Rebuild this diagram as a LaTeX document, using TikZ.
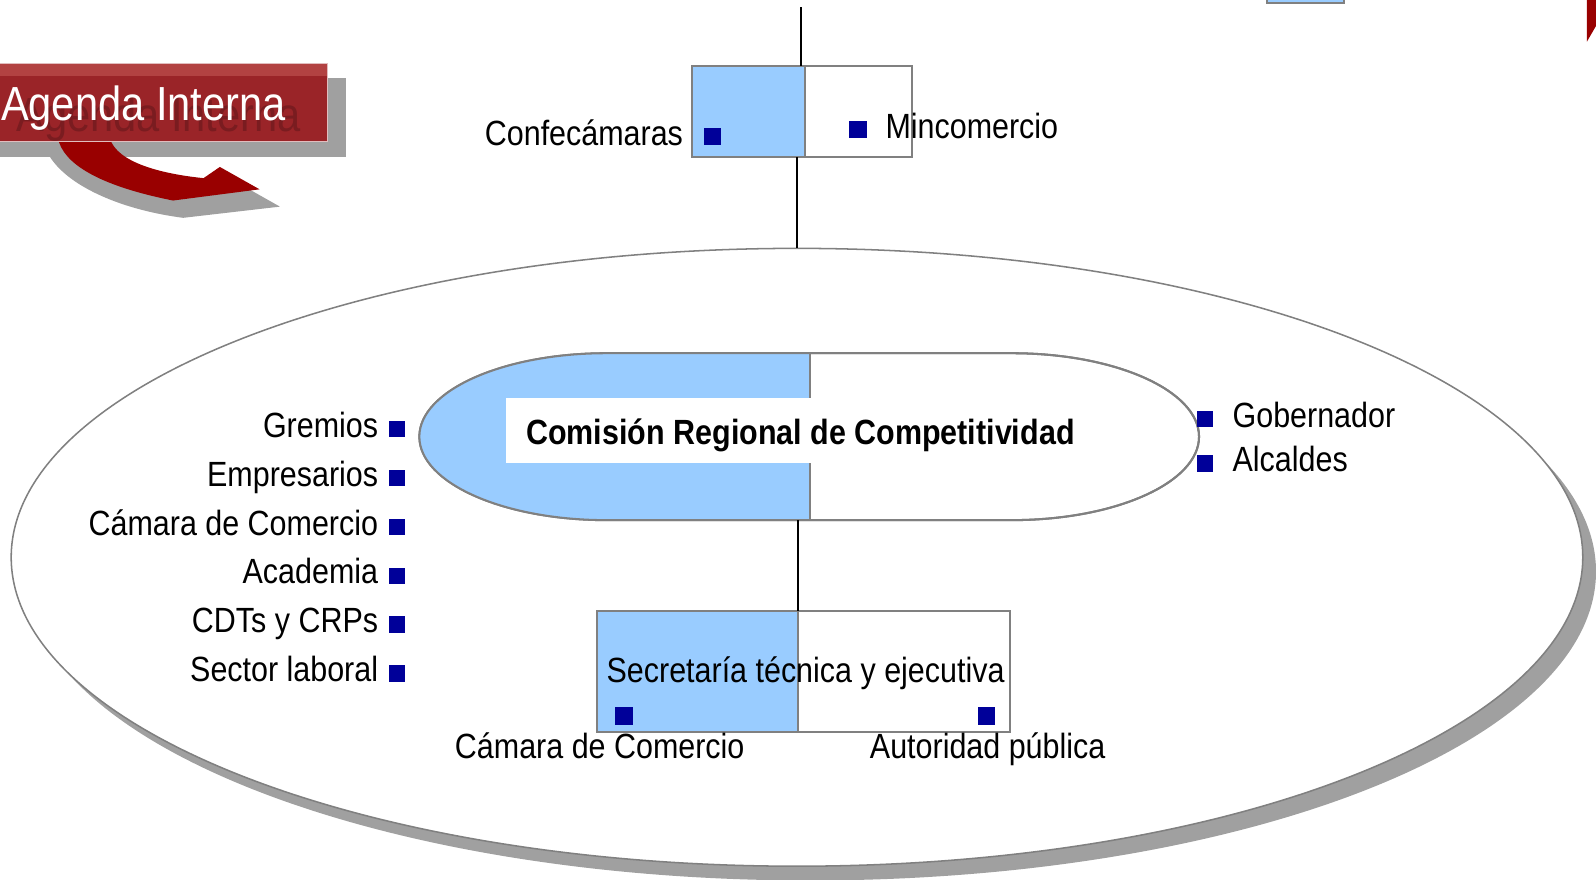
\documentclass[tikz,border=0pt]{standalone}
\usepackage{fontspec}
\setmainfont{Liberation Sans}[FakeStretch=0.87]
\usetikzlibrary{shapes.geometric}
\definecolor{lb}{RGB}{153,204,255}
\definecolor{dkblue}{RGB}{0,0,153}
\definecolor{boxgray}{RGB}{128,128,128}
\definecolor{shgray}{RGB}{160,160,160}
\definecolor{bannerred}{RGB}{154,36,40}
\definecolor{bannertop}{RGB}{178,66,66}
\definecolor{ghostred}{RGB}{122,28,32}
\definecolor{arrowred}{RGB}{153,0,0}
\newcommand{\sqb}{\textcolor{dkblue}{\rule{8pt}{8pt}}}
\newcommand{\sqB}{\textcolor{dkblue}{\rule{8.5pt}{8.5pt}}}
\begin{document}
\begin{tikzpicture}[x=0.5pt,y=-0.5pt,
  txt/.style={inner sep=0pt, outer sep=0pt, font=\fontsize{17.2}{20}\selectfont, text=black},
  boxst/.style={draw=boxgray, line width=1pt, inner sep=0pt, outer sep=0pt},
  boxline/.style={draw=boxgray, line width=1pt},
  conn/.style={draw=black, line width=1pt},
  sqst/.style={fill=dkblue, minimum size=8.5pt, inner sep=0pt, outer sep=0pt},
  bigtxt/.style={inner sep=0pt, outer sep=0pt, font=\fontsize{23.5}{28}\selectfont}]
\useasboundingbox (0,0) rectangle (1568,864);
\clip (0,0) rectangle (1568,864);

% top-right fragments
\filldraw[fill=lb, draw=boxgray, line width=1pt] (1245,-10) rectangle (1320,3);
\fill[arrowred] (1559,-2) -- (1559,41) -- (1570,22) -- (1570,-2) -- cycle;

% big region with shadow
\fill[shgray] (796,561.5) ellipse [x radius=772, y radius=303.5];
\node[ellipse, draw=boxgray, line width=0.75pt, fill=white, minimum width=772pt, minimum height=303.5pt, inner sep=0pt, outer sep=0pt] (region) at (783,547.5) {};

% top box
\fill[lb] (679.6,64.8) rectangle (791,154);
\node[boxst, minimum width=108pt, minimum height=44.6pt] (topbox) at (787.65,109.4) {};
\draw[boxline] (791,64.8) -- (791,154);
\node[txt, anchor=base east] (confe) at (708.5,142.5) {Confecámaras\hspace{10.25pt}\sqB};
\node[txt, anchor=base west] (minc) at (834.5,136) {\sqB\hspace{9.25pt}Mincomercio};

% connectors
\coordinate (topend) at (787,7);
\draw[conn] (topend) -- (topend |- topbox.north);
\draw[conn] (region.north |- topbox.south) -- (region.north);

% stadium (Comision)
\filldraw[fill=white, draw=boxgray, line width=1pt] (596,347) -- (994,347) arc[start angle=-90,end angle=90,x radius=184,y radius=82] -- (596,511) arc[start angle=90,end angle=270,x radius=184,y radius=82] -- cycle;
\begin{scope}
\clip (596,347) -- (994,347) arc[start angle=-90,end angle=90,x radius=184,y radius=82] -- (596,511) arc[start angle=90,end angle=270,x radius=184,y radius=82] -- cycle;
\fill[lb] (400,340) rectangle (796,520);
\end{scope}
\draw[boxgray, line width=1pt] (596,347) -- (994,347) arc[start angle=-90,end angle=90,x radius=184,y radius=82] -- (596,511) arc[start angle=90,end angle=270,x radius=184,y radius=82] -- cycle;
\draw[boxline] (796,347) -- (796,511);
\node[fill=white, minimum width=291pt, minimum height=31.75pt, inner sep=0pt, outer sep=0pt] (crcbox) at (788,422.75) {};
\node[txt, anchor=base west, font=\fontsize{17.2}{20}\selectfont\bfseries] (crc) at (517,437) {Comisión Regional de Competitividad};
\coordinate (crcbot) at (784,511);

% bottom box
\fill[lb] (586.8,600) rectangle (784,718.8);
\node[boxst, minimum width=202.75pt, minimum height=59.4pt] (botbox) at (789.55,659.4) {};
\draw[boxline] (784,600) -- (784,718.8);
\draw[conn] (crcbot) -- (crcbot |- botbox.north);
\node[sqst] (sqcc) at (613,703.4) {};
\node[sqst] (sqap) at (969.3,703.4) {};
\node[txt, anchor=base west] (secr) at (596,670.7) {Secretaría técnica y ejecutiva};
\node[txt, anchor=base west] (camb) at (447,745) {Cámara de Comercio};
\node[txt, anchor=base west] (autp) at (854.7,745) {Autoridad pública};

% left list
\node[txt, anchor=base east] (grem) at (398,429.6) {Gremios\hspace{5.25pt}\sqb};
\node[txt, anchor=base east] (empr) at (398,477.6) {Empresarios\hspace{5.25pt}\sqb};
\node[txt, anchor=base east] (cama) at (398,525.6) {Cámara de Comercio\hspace{5.25pt}\sqb};
\node[txt, anchor=base east] (acad) at (398,573.6) {Academia\hspace{5.25pt}\sqb};
\node[txt, anchor=base east] (cdts) at (398,621.6) {CDTs y CRPs\hspace{5.25pt}\sqb};
\node[txt, anchor=base east] (sect) at (398,669.6) {Sector laboral\hspace{5.25pt}\sqb};

% right list
\node[txt, anchor=base west] (gobe) at (1176,419.5) {\sqb\hspace{9.5pt}Gobernador};
\node[txt, anchor=base west] (alca) at (1176,463.4) {\sqb\hspace{9.5pt}Alcaldes};

% banner
\fill[shgray] (0,76.7) rectangle (340,154);
\fill[shgray] (42,136) .. controls (48,175) and (110,205) .. (180,214) -- (275,203) -- (236,181) -- (215,190) .. controls (160,185) and (100,165) .. (95,136) -- cycle;
\fill[arrowred] (57,136) .. controls (62,160) and (95,182) .. (170,197) -- (255,186) -- (216,164) -- (200,175) .. controls (160,171) and (115,160) .. (108,136) -- cycle;
\fill[bannerred] (-2,62) rectangle (322,139);
\fill[bannertop] (-2,62) rectangle (322,75);
\draw[white!70!bannerred, line width=0.6pt] (-2,62) rectangle (322,139);
\node[bigtxt, anchor=base west, text=ghostred] (agendash) at (16,129) {Agenda Interna};
\node[bigtxt, anchor=base west, text=white] (agenda) at (1,118) {Agenda Interna};
\end{tikzpicture}
\end{document}
